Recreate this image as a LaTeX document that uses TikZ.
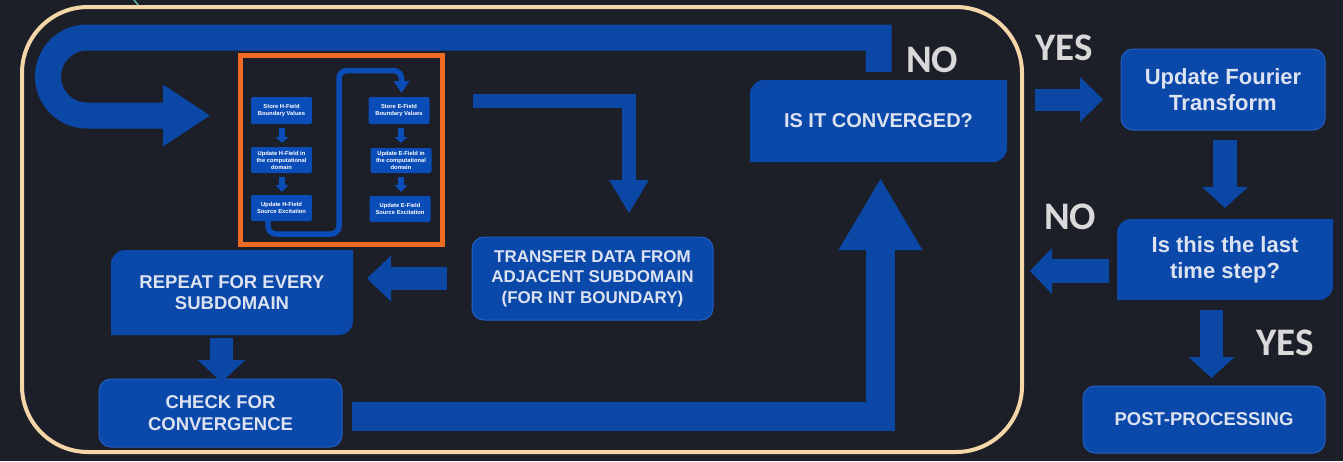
\documentclass[tikz,border=0pt]{standalone}
\usepackage{fontspec}
\setmainfont{Liberation Sans}
\newfontfamily\labfont{Carlito}
\usetikzlibrary{calc}
\definecolor{bgc}{HTML}{1C1F27}
\definecolor{blk}{HTML}{0B47A5}
\definecolor{boxc}{HTML}{0A48AA}
\definecolor{boxline}{HTML}{2460C4}
\definecolor{txt}{HTML}{DCE2F0}
\definecolor{labc}{HTML}{D9D9D9}
\definecolor{framec}{HTML}{F5D6A8}
\definecolor{orng}{HTML}{EF6A25}
\definecolor{smallbox}{HTML}{0B4DB8}
\definecolor{tealc}{HTML}{5FB3A8}
\newcommand\blkhead[4][blk]{\fill[#1] ($#2!#4!90:#3$) -- #3 -- ($#2!#4!-90:#3$) -- cycle;}
\begin{document}
\begin{tikzpicture}[x=1pt,y=-1pt,
  lbl/.style={text=labc, font=\labfont\bfseries\fontsize{39}{40}\selectfont, inner sep=0pt},
  bigbox/.style={fill=boxc, draw=boxline, line width=1pt, rounded corners=12pt, text=txt, align=center, inner sep=0pt, font=\bfseries\fontsize{18.5}{21.5}\selectfont},
  diagbox/.style={fill=bgc, text=txt, align=center, inner sep=0pt, font=\bfseries\fontsize{18.5}{21.5}\selectfont,
    path picture={\fill[boxc] let \p1=(path picture bounding box.north west), \p2=(path picture bounding box.south east) in
      (\x1,\y2) -- (\x1,\y1-14pt) arc[start angle=180,end angle=90,radius=14pt] -- (\x2,\y1) -- (\x2,\y2+14pt) arc[start angle=0,end angle=-90,radius=14pt] -- cycle;}},
  sbox/.style={fill=smallbox, rounded corners=2pt, text=white, align=center, inner sep=0pt, minimum width=61pt, font=\bfseries\fontsize{5.8}{7}\selectfont},
  blkline/.style={draw=blk, line cap=butt, miter limit=10},
  sline/.style={draw=smallbox, line cap=butt, line width=6pt},
]
\useasboundingbox (0,0) rectangle (1343,461);
\fill[bgc] (0,0) rectangle (1343,461);
\draw[tealc, line width=1.5pt] (134,0) -- (139,6);

% outer frame
\node[draw=framec, line width=4pt, rounded corners=66pt, minimum width=1000pt, minimum height=445pt, inner sep=0pt] (frame) at (522,229.5) {};

% inner orange box and its small flow
\node[draw=orng, line width=5pt, minimum width=202pt, minimum height=189pt, inner sep=0pt] (inner) at (341.5,150) {};
\node[sbox, minimum height=27pt] (hs) at (281.5,110.5) {Store H-Field\\Boundary Values};
\node[sbox, minimum height=26pt] (hu) at (281.5,160) {Update H-Field in\\the computational\\domain};
\node[sbox, minimum height=26pt] (hx) at (281.5,208) {Update H-Field\\Source Excitation};
\node[sbox, minimum height=27pt] (es) at (399,110.5) {Store E-Field\\Boundary Values};
\node[sbox, minimum height=25pt] (eu) at (401,160.5) {Update E-Field in\\the computational\\domain};
\node[sbox, minimum height=26pt] (ex) at (400,209) {Update E-Field\\Source Excitation};

\coordinate (a1s) at ($(hs.south)+(0.5,4)$);
\coordinate (a1b) at ($(hs.south)+(0.5,13)$);
\coordinate (a1t) at ($(hu.north)+(0.5,-4)$);
\draw[sline] (a1s) -- (a1b); \blkhead[smallbox]{(a1b)}{(a1t)}{6.5pt}
\coordinate (a2s) at ($(hu.south)+(0.5,4)$);
\coordinate (a2b) at ($(hu.south)+(0.5,12)$);
\coordinate (a2t) at ($(hx.north)+(0.5,-3)$);
\draw[sline] (a2s) -- (a2b); \blkhead[smallbox]{(a2b)}{(a2t)}{6.5pt}
\coordinate (a3s) at ($(es.south)+(2,4)$);
\coordinate (a3b) at ($(es.south)+(2,13)$);
\coordinate (a3t) at ($(eu.north)+(0,-5)$);
\draw[sline] (a3s) -- (a3b); \blkhead[smallbox]{(a3b)}{(a3t)}{6.5pt}
\coordinate (a4s) at ($(eu.south)+(0,4)$);
\coordinate (a4b) at ($(eu.south)+(0,12)$);
\coordinate (a4t) at ($(ex.north)+(1,-4)$);
\draw[sline] (a4s) -- (a4b); \blkhead[smallbox]{(a4b)}{(a4t)}{6.5pt}

\coordinate (hxo) at ($(hx.south)+(-13.5,0)$);
\coordinate (hxb) at (401.5,81);
\coordinate (hxt) at ($(es.north)+(2.5,-4)$);
\draw[draw=smallbox, line width=5.5pt, rounded corners=8pt] (hxo) -- (268,234) -- (339,234) -- (339,70.5) -- (401.5,70.5) -- (hxb);
\blkhead[smallbox]{(hxb)}{(hxt)}{8pt}

% main boxes
\node[diagbox, minimum width=257pt, minimum height=82pt, font=\bfseries\fontsize{20}{24}\selectfont] (conv) at (878.5,121) {IS IT CONVERGED?};
\node[bigbox, minimum width=204pt, minimum height=81pt, font=\bfseries\fontsize{22}{26.5}\selectfont] (fourier) at (1223,89.5) {Update Fourier\\Transform};
\node[diagbox, minimum width=216pt, minimum height=81pt, font=\bfseries\fontsize{22}{26}\selectfont] (last) at (1225,259.5) {Is this the last\\time step?};
\node[bigbox, minimum width=242pt, minimum height=67pt] (post) at (1204,419.5) {POST-PROCESSING};
\node[bigbox, minimum width=241pt, minimum height=83pt, font=\bfseries\fontsize{17}{20.5}\selectfont] (transfer) at (592.5,278.5) {TRANSFER DATA FROM\\ADJACENT SUBDOMAIN\\(FOR INT BOUNDARY)};
\node[diagbox, minimum width=242pt, minimum height=85pt] (repeat) at (232,292.5) {REPEAT FOR EVERY\\SUBDOMAIN};
\node[bigbox, minimum width=243pt, minimum height=68pt] (check) at (220.5,413) {CHECK FOR\\CONVERGENCE};

% loop arrow (NO) from conv back to start
\coordinate (loopS) at ($(conv.north)+(0,-8)$);
\coordinate (loopB) at (163,115.5);
\coordinate (loopT) at (210,115.5);
\draw[blkline, line width=26pt] (loopS) -- (878.5,37.5) -- (87,37.5) arc[start angle=90,end angle=270,radius=39pt] -- (loopB);
\blkhead{(loopB)}{(loopT)}{31pt}

% inner box -> transfer
\coordinate (midS) at (473,101);
\coordinate (midB) at (629,180);
\coordinate (midT) at (629,213);
\draw[blkline, line width=14pt] (midS) -| (midB);
\blkhead{(midB)}{(midT)}{20pt}

% transfer -> repeat
\coordinate (trS) at ($(transfer.west)+(-25,0)$);
\coordinate (trB) at (391,278.5);
\coordinate (trT) at (367,278.5);
\draw[blkline, line width=23pt] (trS) -- (trB);
\blkhead{(trB)}{(trT)}{23pt}

% repeat -> check
\coordinate (rcS) at ($(repeat.south)+(-10.5,3)$);
\coordinate (rcB) at (221.5,360);
\coordinate (rcT) at (221.5,382);
\draw[blkline, line width=23pt] (rcS) -- (rcB);
\blkhead{(rcB)}{(rcT)}{24pt}

% check -> conv
\coordinate (ccS) at (352,416.5);
\coordinate (ccB) at (880.5,250);
\coordinate (ccT) at (880.5,179);
\draw[blkline, line width=29pt] (ccS) -| (ccB);
\blkhead{(ccB)}{(ccT)}{42pt}

% conv -> fourier (YES)
\coordinate (cfS) at (1035,99.5);
\coordinate (cfB) at (1080,99.5);
\coordinate (cfT) at (1103,99.5);
\draw[blkline, line width=22pt] (cfS) -- (cfB);
\blkhead{(cfB)}{(cfT)}{22.5pt}

% fourier -> last
\coordinate (flS) at (1225,140);
\coordinate (flB) at (1225,187);
\coordinate (flT) at (1225,208);
\draw[blkline, line width=24pt] (flS) -- (flB);
\blkhead{(flB)}{(flT)}{23pt}

% last -> frame (NO)
\coordinate (lfS) at (1109,271);
\coordinate (lfB) at (1052,271);
\coordinate (lfT) at (1030,271);
\draw[blkline, line width=24pt] (lfS) -- (lfB);
\blkhead{(lfB)}{(lfT)}{23pt}

% last -> post (YES)
\coordinate (lpS) at (1211.5,310);
\coordinate (lpB) at (1211.5,357);
\coordinate (lpT) at (1211.5,378);
\draw[blkline, line width=23pt] (lpS) -- (lpB);
\blkhead{(lpB)}{(lpT)}{23pt}

% labels
\node[lbl, anchor=base west] (no1) at (906,72) {NO};
\node[lbl, anchor=base west] (yes1) at (1035,60) {YES};
\node[lbl, anchor=base west] (no2) at (1044,229) {NO};
\node[lbl, anchor=base west] (yes2) at (1256,355) {YES};
\end{tikzpicture}
\end{document}
